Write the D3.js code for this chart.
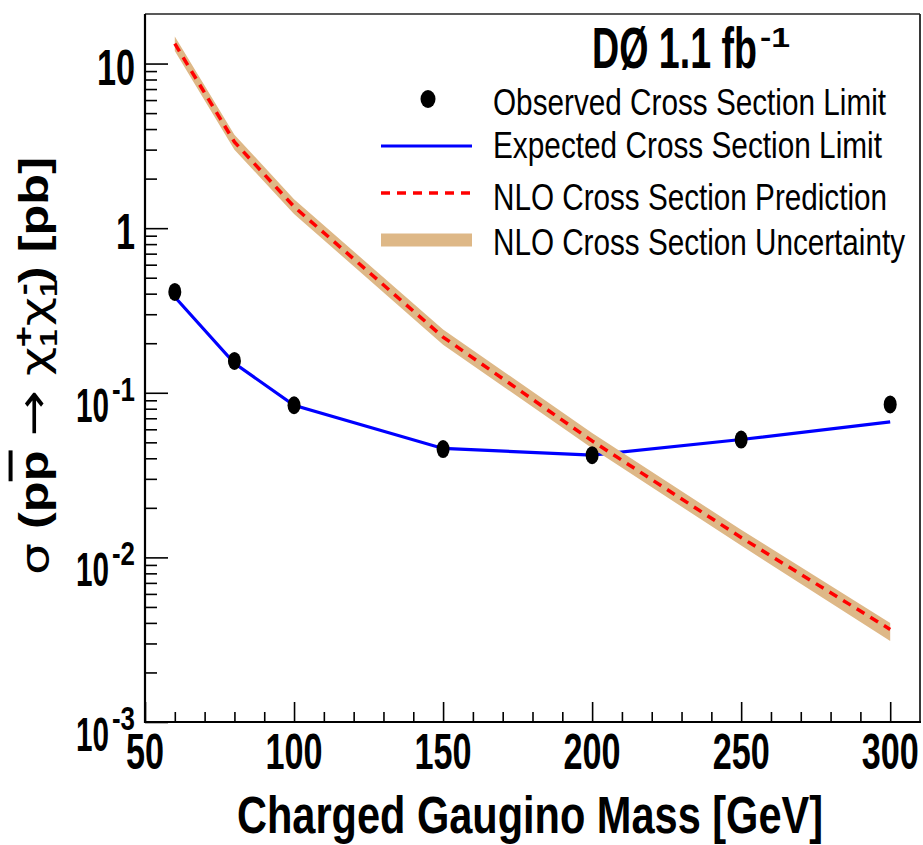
<!DOCTYPE html>
<html><head><meta charset="utf-8">
<script src="https://cdn.jsdelivr.net/npm/d3@7"></script>
<style>
body{margin:0;background:#fff}
text{font-family:"Liberation Sans",Arial,Helvetica,sans-serif}
.sym{font-family:"DejaVu Sans",sans-serif}
</style>
</head><body>
<svg id="c" width="923" height="845"></svg>
<script>
// ---- data ----
const masses = [60, 80, 100, 150, 200, 250, 300];
const observed = [0.41, 0.156, 0.084, 0.0455, 0.0418, 0.052, 0.085];
const expected = [0.382, 0.151, 0.084, 0.0459, 0.0418, 0.052, 0.0666];
const nloPred = [13.2, 3.34, 1.35, 0.218, 0.051, 0.0132, 0.00365];
const nloUp = [14.6, 3.7, 1.5, 0.242, 0.057, 0.0147, 0.0040];
const nloLo = [11.9, 3.0, 1.22, 0.196, 0.046, 0.0118, 0.0031];
const xTickValues = [50, 100, 150, 200, 250, 300];
const xTickLabels = ["50", "100", "150", "200", "250", "300"];
const yTickValues = [10, 1, 0.1, 0.01, 0.001];
const yTickBase = ["10", "1", "10", "10", "10"];
const yTickExp = ["", "", "-1", "-2", "-3"];
const legendLabels = ["Observed Cross Section Limit", "Expected Cross Section Limit",
  "NLO Cross Section Prediction", "NLO Cross Section Uncertainty"];
const legendWidths = [393, 389, 394, 412];
const titleMain = "D\u00D8 1.1 fb";
const titleExp = "-1";
const xTitle = "Charged Gaugino Mass [GeV]";

// ---- layout ----
const L = 145, R = 920, T = 14, B = 722;
const svg = d3.select("#c");
const x = d3.scaleLinear().domain([50, 310]).range([L, R]);
const y = d3.scaleLog().domain([1e-3, 20]).range([B, T]);
const tan = "#deb887";

const idx = d3.range(masses.length);

// expected line
svg.append("path")
  .attr("d", d3.line().x(i => x(masses[i])).y(i => y(expected[i]))(idx))
  .attr("fill", "none").attr("stroke", "#0000ff").attr("stroke-width", 3.2);

// uncertainty band
svg.append("path")
  .attr("d", d3.area().x(i => x(masses[i])).y0(i => y(nloLo[i])).y1(i => y(nloUp[i]))(idx))
  .attr("fill", tan).attr("stroke", "none");

// NLO prediction
svg.append("path")
  .attr("d", d3.line().x(i => x(masses[i])).y(i => y(nloPred[i]))(idx))
  .attr("fill", "none").attr("stroke", "#ff0000").attr("stroke-width", 3.5)
  .attr("stroke-dasharray", "9,7");

// observed points
svg.selectAll("ellipse.obs").data(idx).enter().append("ellipse")
  .attr("class", "obs")
  .attr("cx", i => x(masses[i])).attr("cy", i => y(observed[i]))
  .attr("rx", 6.5).attr("ry", 9).attr("fill", "#000");

// ---- axes ticks ----
const minorX = d3.range(60, 301, 10).filter(v => v % 50 !== 0);
const minorY = [];
[1e-3, 1e-2, 1e-1, 1, 10].forEach(d => { for (let k = 2; k <= 9; k++) { const v = k * d; if (v < 20) minorY.push(v); } });

function styleAxis(g) {
  g.select(".domain").remove();
  g.selectAll("line").attr("stroke", "#000").attr("stroke-width", 1.6);
  g.selectAll("text").remove();
}
svg.append("g").attr("transform", `translate(0,${B})`)
  .call(d3.axisBottom(x).tickValues(xTickValues).tickSize(-20).tickFormat("")).call(styleAxis);
svg.append("g").attr("transform", `translate(0,${B})`)
  .call(d3.axisBottom(x).tickValues(minorX).tickSize(-10).tickFormat("")).call(styleAxis);
svg.append("g").attr("transform", `translate(${L},0)`)
  .call(d3.axisLeft(y).tickValues(yTickValues).tickSize(-23).tickFormat("")).call(styleAxis);
svg.append("g").attr("transform", `translate(${L},0)`)
  .call(d3.axisLeft(y).tickValues(minorY).tickSize(-12).tickFormat("")).call(styleAxis);

// frame
svg.append("line").attr("x1", L).attr("x2", R).attr("y1", T).attr("y2", T).attr("stroke", "#222").attr("stroke-width", 1.5);
svg.append("line").attr("x1", R).attr("x2", R).attr("y1", T).attr("y2", B).attr("stroke", "#222").attr("stroke-width", 1.8);
svg.append("line").attr("x1", L).attr("x2", L).attr("y1", T).attr("y2", B + 1).attr("stroke", "#000").attr("stroke-width", 2.2);
svg.append("line").attr("x1", L - 1).attr("x2", R + 1).attr("y1", B).attr("y2", B).attr("stroke", "#000").attr("stroke-width", 2.2);

// ---- text helper ----
function txt(px, py, s, size, width, anchor, weight) {
  return svg.append("text").attr("x", px).attr("y", py).text(s)
    .attr("font-size", size).attr("font-weight", weight || "bold")
    .attr("text-anchor", anchor || "start")
    .attr("textLength", width).attr("lengthAdjust", "spacingAndGlyphs");
}

// x tick labels
xTickValues.forEach((v, i) => {
  txt(x(v), 769, xTickLabels[i], 50, 19 * xTickLabels[i].length, "middle");
});
// y tick labels
yTickValues.forEach((v, i) => {
  const ty = y(v);
  if (yTickExp[i] === "") {
    txt(135, ty + 21, yTickBase[i], 50, 19 * yTickBase[i].length, "end");
  } else {
    txt(109, ty + 29, yTickBase[i], 49, 33, "end");
    txt(135, ty + 8, yTickExp[i], 33, 23, "end");
  }
});

// x title
txt(237, 833, xTitle, 51, 586, "start");

// y title
const yt = svg.append("text").attr("font-size", 42).attr("font-weight", "bold")
  .attr("text-anchor", "middle");
yt.append("tspan").attr("class", "sym").attr("font-weight", "normal").text("\u03C3");
yt.append("tspan").text(" (p");
yt.append("tspan").attr("style", "text-decoration: overline").text("p");
yt.append("tspan").text(" ");
yt.append("tspan").attr("class", "sym").attr("font-weight", "normal").attr("font-size", 46).text("\u2192");
yt.append("tspan").text(" ");
yt.append("tspan").attr("class", "sym").attr("font-weight", "normal").text("\u03C7");
yt.append("tspan").attr("font-size", 26).attr("dy", 9).text("1");
yt.append("tspan").attr("font-size", 30).attr("dx", -15).attr("dy", -25).text("+");
yt.append("tspan").attr("class", "sym").attr("font-weight", "normal").attr("dy", 16).text("\u03C7");
yt.append("tspan").attr("font-size", 26).attr("dy", 9).text("1");
yt.append("tspan").attr("font-size", 30).attr("dx", -13).attr("dy", -25).text("-");
yt.append("tspan").attr("dy", 16).text(")  [pb]");
const ytw = yt.node().getComputedTextLength();
const ysx = 452 / ytw;
yt.attr("transform", `translate(48,366) rotate(-90) scale(${ysx},0.95)`);

// legend title
txt(592, 68, titleMain, 57, 165, "start");
txt(760, 47, titleExp, 27, 30, "start");

// legend entries
const rowsText = [115, 158, 210, 255];
const rowsSym = [99, 146, 193, 240];
svg.append("ellipse").attr("cx", 428).attr("cy", rowsSym[0]).attr("rx", 7.5).attr("ry", 9).attr("fill", "#000");
svg.append("line").attr("x1", 381).attr("x2", 472).attr("y1", rowsSym[1]).attr("y2", rowsSym[1])
  .attr("stroke", "#0000ff").attr("stroke-width", 3.2);
svg.append("line").attr("x1", 381).attr("x2", 472).attr("y1", rowsSym[2]).attr("y2", rowsSym[2])
  .attr("stroke", "#ff0000").attr("stroke-width", 3.5).attr("stroke-dasharray", "9,7");
svg.append("rect").attr("x", 381).attr("width", 91).attr("y", rowsSym[3] - 6.5).attr("height", 13).attr("fill", tan);
legendLabels.forEach((s, i) => txt(493, rowsText[i], s, 37, legendWidths[i], "start", "normal"));
</script>
</body></html>
